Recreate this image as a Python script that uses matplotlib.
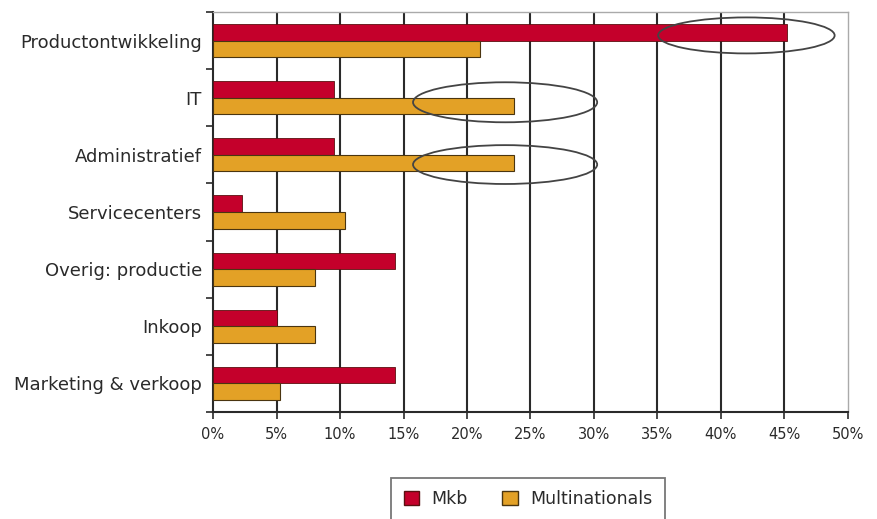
import numpy as np
import matplotlib
matplotlib.use('Agg')
import matplotlib.pyplot as plt
from matplotlib.patches import Ellipse, Patch

categories = ['Productontwikkeling', 'IT', 'Administratief', 'Servicecenters',
              'Overig: productie', 'Inkoop', 'Marketing & verkoop']
mkb = [45.2, 9.5, 9.5, 2.3, 14.3, 5.0, 14.3]
multinationals = [21.0, 23.7, 23.7, 10.4, 8.0, 8.0, 5.3]
xticks = [0, 5, 10, 15, 20, 25, 30, 35, 40, 45, 50]

# highlighted bars: (category index, offset, x centre, width, height)
ovals = [(0, -0.09, 42.0, 13.9, 0.63),
         (1, 0.08, 23.0, 14.5, 0.70),
         (2, 0.17, 23.0, 14.5, 0.68)]

red = '#C4002B'
gold = '#E3A126'
dark = '#2a2a2a'

plt.rcParams['font.family'] = ['DejaVu Sans']

fig = plt.figure(figsize=(8.77, 5.19), dpi=100)
ax = fig.add_axes([0.2429, 0.2062, 0.7240, 0.7707])

y = np.arange(len(categories))
h = 0.29
ax.barh(y - h / 2, mkb, height=h, color=red, edgecolor='#5a1010', linewidth=0.6, zorder=3)
ax.barh(y + h / 2, multinationals, height=h, color=gold, edgecolor='#4a3510', linewidth=0.8, zorder=3)

for i, off, cx, w, eh in ovals:
    ax.add_patch(Ellipse((cx, i + off), w, eh, fill=False, edgecolor='#444444',
                         linewidth=1.3, zorder=4))

ax.set_xlim(0, 50)
ax.set_ylim(len(categories) - 0.5, -0.5)
ax.set_xticks(xticks)
ax.set_xticklabels([f'{v}%' for v in xticks], fontsize=10.5, color=dark)
ax.set_yticks(y)
ax.set_yticklabels(categories, fontsize=13, color=dark)
ax.tick_params(axis='y', length=0, pad=8)
ax.set_yticks(np.arange(len(categories) + 1) - 0.5, minor=True)
ax.tick_params(axis='y', which='minor', length=5, color=dark, width=1.2)
ax.tick_params(axis='x', length=5, color=dark, width=1.2, pad=6)

for v in xticks[1:-1]:
    ax.axvline(v, color=dark, linewidth=1.5, zorder=1)

for s in ['top', 'right']:
    ax.spines[s].set_color('#aaaaaa')
    ax.spines[s].set_linewidth(1.0)
for s in ['left', 'bottom']:
    ax.spines[s].set_color(dark)
    ax.spines[s].set_linewidth(1.5)

handles = [Patch(facecolor=red, edgecolor='#5a1010', label='Mkb'),
           Patch(facecolor=gold, edgecolor='#4a3510', label='Multinationals')]
leg = fig.legend(handles=handles, loc='lower center', bbox_to_anchor=(0.602, -0.012),
                 ncol=2, fontsize=12.5, frameon=True, fancybox=False,
                 handlelength=0.9, handleheight=0.9, columnspacing=2.0,
                 borderpad=0.7, handletextpad=0.7, borderaxespad=0.3)
leg.get_frame().set_edgecolor('#555555')
leg.get_frame().set_linewidth(1.3)
for t in leg.get_texts():
    t.set_color(dark)

fig.savefig('out.png', dpi=100)
